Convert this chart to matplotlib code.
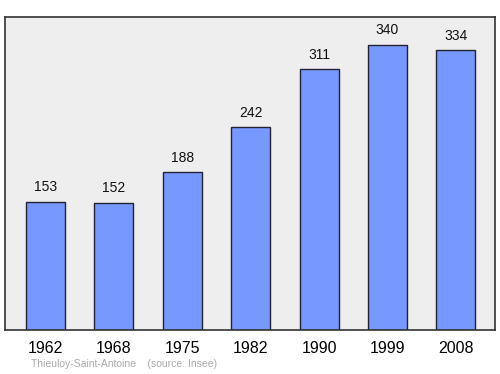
import matplotlib
matplotlib.use("Agg")
import matplotlib.pyplot as plt

plt.rcParams['font.family'] = ['Liberation Sans', 'DejaVu Sans']

years = ["1962", "1968", "1975", "1982", "1990", "1999", "2008"]
population = [153, 152, 188, 242, 311, 340, 334]
source_label = "Thieuloy-Saint-Antoine    (source: Insee)"

fig = plt.figure(figsize=(5, 3.74), dpi=100)
ax = fig.add_axes([5/500, 1 - 330/374, 490/500, 313/374])
ax.set_facecolor("#eeeeee")
x = list(range(len(years)))
ax.bar(x, population, width=0.57, color="#7799ff", edgecolor="#222233", linewidth=1.0, zorder=2)
for xi, v in zip(x, population):
    ax.annotate(str(v), (xi, v), xytext=(0, 10.5), textcoords="offset points",
                ha="center", va="center", fontsize=10, color="#111111")
ax.set_xlim(-0.592, 6.572)
ax.set_ylim(0, 373.5)
ax.set_yticks([])
ax.set_xticks(x)
ax.set_xticklabels(years, fontsize=11.5)
ax.tick_params(axis="x", length=0, pad=8)
for s in ax.spines.values():
    s.set_color("#333333")
    s.set_linewidth(1.2)
fig.text(31/500, 1 - 364/374, source_label, fontsize=7.5, color="#aaaaaa", ha="left", va="center")
fig.savefig("out.png", dpi=100, facecolor="white")
